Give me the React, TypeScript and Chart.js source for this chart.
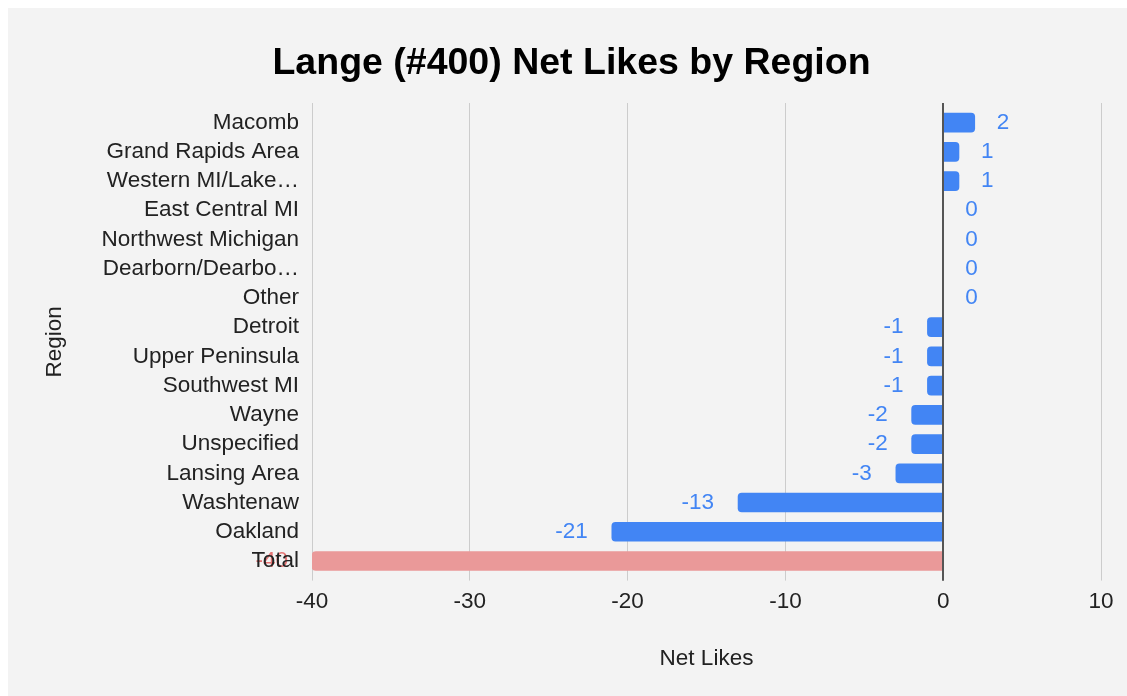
import React, { useEffect, useRef } from "react";
import { Chart, registerables } from "chart.js";

Chart.register(...registerables);

const categories = [
  "Macomb",
  "Grand Rapids Area",
  "Western MI/Lake…",
  "East Central MI",
  "Northwest Michigan",
  "Dearborn/Dearbo…",
  "Other",
  "Detroit",
  "Upper Peninsula",
  "Southwest MI",
  "Wayne",
  "Unspecified",
  "Lansing Area",
  "Washtenaw",
  "Oakland",
  "Total",
];
const netLikes = [2, 1, 1, 0, 0, 0, 0, -1, -1, -1, -2, -2, -3, -13, -21, -40];
const xMin = -40;
const xMax = 10;
const xStep = 10;

const BLUE = "#4285f4";
const PINK = "#ea9999";
const barColors = categories.map((c) => (c === "Total" ? PINK : BLUE));
const labelColors = categories.map((c) => (c === "Total" ? "#e57373" : BLUE));

const FAMILY = '"Liberation Sans", Arial, Helvetica, sans-serif';
const FS = 22.5;
const W = 1119;
const H = 688;

function align(px: number, width: number) {
  const half = width / 2;
  return Math.round(px - half) + half;
}

const extrasPlugin = {
  id: "extras",
  afterLayout(chart: any) {
    const tb = chart.titleBlock;
    if (tb) {
      tb.left = 8;
      tb.right = W;
      tb.width = tb.right - tb.left;
    }
  },
  beforeDatasetsDraw(chart: any) {
    const ctx = chart.ctx;
    const xs = chart.scales.x;
    const top = chart.chartArea.top;
    ctx.save();
    xs.ticks.forEach((t: any) => {
      if (t.value === 0) return;
      const px = align(xs.getPixelForValue(t.value), 1);
      ctx.strokeStyle = "#cccccc";
      ctx.lineWidth = 1;
      ctx.beginPath();
      ctx.moveTo(px, top - 5);
      ctx.lineTo(px, top);
      ctx.stroke();
    });
    ctx.restore();
  },
  afterDatasetsDraw(chart: any) {
    const ctx = chart.ctx;
    const xs = chart.scales.x;
    const { top, bottom } = chart.chartArea;
    ctx.save();
    const zx = align(xs.getPixelForValue(0), 2);
    ctx.strokeStyle = "#555555";
    ctx.lineWidth = 2;
    ctx.beginPath();
    ctx.moveTo(zx, top - 5);
    ctx.lineTo(zx, bottom + 5);
    ctx.stroke();
    const meta = chart.getDatasetMeta(0);
    ctx.font = `${FS}px ${FAMILY}`;
    ctx.textBaseline = "middle";
    meta.data.forEach((el: any, i: number) => {
      const v = netLikes[i];
      const { x, y } = el.getProps(["x", "y"], true);
      ctx.fillStyle = labelColors[i];
      if (v >= 0) {
        ctx.textAlign = "left";
        ctx.fillText(String(v), x + 22, y);
      } else {
        ctx.textAlign = "right";
        ctx.fillText(String(v), x - 24, y);
      }
    });
    ctx.restore();
  },
};

export default function App() {
  const ref = useRef<HTMLCanvasElement | null>(null);

  useEffect(() => {
    if (!ref.current) return;
    const chart = new Chart(ref.current, {
      type: "bar",
      data: {
        labels: categories,
        datasets: [
          {
            data: netLikes,
            backgroundColor: barColors,
            barThickness: 19,
            borderRadius: 4,
            borderSkipped: "start",
          },
        ],
      },
      plugins: [extrasPlugin],
      options: {
        responsive: false,
        animation: false,
        indexAxis: "y",
        devicePixelRatio: 1,
        layout: { padding: { left: 0, right: 26, top: 0, bottom: 0 } },
        plugins: {
          legend: { display: false },
          tooltip: { enabled: false },
          title: {
            display: true,
            text: "Lange (#400) Net Likes by Region",
            color: "#000000",
            font: { family: FAMILY, size: 37.5, weight: "bold" },
            padding: { top: 33, bottom: 22 },
          },
        },
        scales: {
          x: {
            type: "linear",
            min: xMin,
            max: xMax,
            ticks: {
              stepSize: xStep,
              color: "#222222",
              font: { family: FAMILY, size: FS },
              padding: 8,
            },
            grid: {
              color: (c: any) => (c.tick && c.tick.value === 0 ? "#555555" : "#cccccc"),
              lineWidth: (c: any) => (c.tick && c.tick.value === 0 ? 2 : 1),
              drawTicks: true,
              tickLength: 5,
            },
            border: { display: false },
            title: {
              display: true,
              text: "Net Likes",
              color: "#222222",
              font: { family: FAMILY, size: FS },
              padding: { top: 0, bottom: 24 },
            },
            afterFit: (s: any) => {
              s.height = 120.4;
            },
          },
          y: {
            type: "category",
            offset: true,
            grid: { display: false, drawTicks: false },
            border: { display: false },
            ticks: {
              color: "#222222",
              font: { family: FAMILY, size: FS },
              padding: 13,
              autoSkip: false,
              z: 1,
            },
            title: {
              display: true,
              text: "Region",
              color: "#222222",
              font: { family: FAMILY, size: FS },
              padding: { top: 33, bottom: 0 },
            },
            afterFit: (s: any) => {
              s.width = 304;
            },
          },
        },
      } as any,
    });
    return () => chart.destroy();
  }, []);

  return (
    <div
      style={{
        position: "absolute",
        left: 8,
        top: 8,
        width: W,
        height: H,
        background: "#f3f3f3",
      }}
    >
      <canvas ref={ref} width={W} height={H} style={{ display: "block" }} />
    </div>
  );
}
